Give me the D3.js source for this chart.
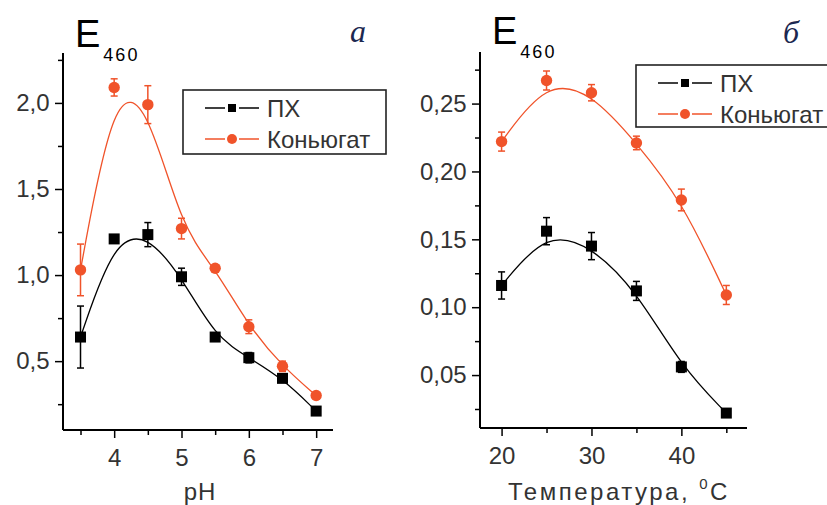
<!DOCTYPE html>
<html>
<head>
<meta charset="utf-8">
<script src="https://cdn.jsdelivr.net/npm/d3@7"></script>
<style>
	body { margin: 0; background: #fff; }
	svg { display: block; font-family: "Liberation Sans", Arial, sans-serif; }
</style>
</head>
<body>
<svg width="827" height="505"></svg>
<script>
// panel a: pH
const phValues = [3.5, 4, 4.5, 5, 5.5, 6, 6.5, 7];
const phPX = [0.64, 1.21, 1.235, 0.99, 0.64, 0.52, 0.40, 0.21];
const phPXErr = [0.18, 0.02, 0.07, 0.05, 0.02, 0.03, 0.02, 0.01];
const phConj = [1.03, 2.09, 1.99, 1.27, 1.04, 0.70, 0.47, 0.30];
const phConjErr = [0.15, 0.05, 0.11, 0.06, 0.01, 0.04, 0.03, 0.01];
const phXMajor = [4, 5, 6, 7];
const phXMinor = [3.5, 4.5, 5.5, 6.5];
const phYMajor = [0.5, 1.0, 1.5, 2.0];
const phYMinor = [0.25, 0.75, 1.25, 1.75, 2.25];

// panel б: temperature
const tempValues = [20, 25, 30, 35, 40, 45];
const tempPX = [0.116, 0.156, 0.145, 0.112, 0.056, 0.022];
const tempPXErr = [0.010, 0.010, 0.010, 0.007, 0.004, 0.001];
const tempConj = [0.222, 0.267, 0.258, 0.221, 0.179, 0.109];
const tempConjErr = [0.007, 0.007, 0.006, 0.005, 0.008, 0.007];
const tempXMajor = [20, 30, 40];
const tempXMinor = [25, 35, 45];
const tempYMajor = [0.05, 0.10, 0.15, 0.20, 0.25];
const tempYMinor = [0.025, 0.075, 0.125, 0.175, 0.225, 0.275];

const seriesNames = ["ПХ", "Коньюгат"];
const BLACK = "#000";
const ORANGE = "#f0532a";
const SANS = "'Liberation Sans', Arial, sans-serif";

const svg = d3.select("svg");

function comma(digits) {
	return d => d.toFixed(digits).replace(".", ",");
}

function drawPanel(cfg) {
	const x = d3.scaleLinear().domain(cfg.xDomain).range(cfg.xRange);
	const y = d3.scaleLinear().domain(cfg.yDomain).range(cfg.yRange);
	const g = svg.append("g");

	// axes: minor ticks, then major ticks with labels
	const xAxis = g.append("g").attr("transform", `translate(0,${cfg.yRange[0]})`);
	xAxis.append("g").call(d3.axisBottom(x).tickValues(cfg.xMinor).tickSize(5).tickFormat(""));
	xAxis.append("g").call(d3.axisBottom(x).tickValues(cfg.xMajor).tickSize(8).tickFormat(d3.format("d")));
	const yAxis = g.append("g").attr("transform", `translate(${cfg.xRange[0]},0)`);
	yAxis.append("g").call(d3.axisLeft(y).tickValues(cfg.yMinor).tickSize(5).tickFormat(""));
	yAxis.append("g").call(d3.axisLeft(y).tickValues(cfg.yMajor).tickSize(8).tickFormat(comma(cfg.yDigits)));

	g.selectAll(".domain").remove();
	g.append("line")
		.attr("x1", cfg.xRange[0]).attr("x2", cfg.xRange[1])
		.attr("y1", cfg.yRange[0]).attr("y2", cfg.yRange[0])
		.attr("stroke", "#000").attr("stroke-width", 2);
	g.append("line")
		.attr("x1", cfg.xRange[0]).attr("x2", cfg.xRange[0])
		.attr("y1", cfg.yRange[0]).attr("y2", cfg.yRange[1])
		.attr("stroke", "#000").attr("stroke-width", 2);
	g.selectAll(".tick line").attr("stroke", "#000").attr("stroke-width", 1.5);
	g.selectAll(".tick text")
		.attr("fill", "#333")
		.style("font-size", "24px")
		.style("font-family", SANS);
	xAxis.selectAll(".tick text").attr("dy", "1.05em");
	yAxis.selectAll(".tick text").attr("dx", "-0.1em");

	// series
	const series = [
		{vals: cfg.px, errs: cfg.pxErr, color: BLACK, shape: "square"},
		{vals: cfg.conj, errs: cfg.conjErr, color: ORANGE, shape: "circle"}
	];
	const line = d3.line().curve(d3.curveBasis)
		.x(d => x(d.x)).y(d => y(d.y));

	series.forEach(s => {
		const pts = cfg.xs.map((v, i) => ({x: v, y: s.vals[i], e: s.errs[i]}));
		const sg = g.append("g");
		sg.append("path")
			.attr("d", line(pts))
			.attr("fill", "none")
			.attr("stroke", s.color)
			.attr("stroke-width", 1.3);

		const eb = sg.selectAll(".err").data(pts).enter().append("g")
			.attr("stroke", s.color).attr("stroke-width", 1.5);
		eb.append("line")
			.attr("x1", d => x(d.x)).attr("x2", d => x(d.x))
			.attr("y1", d => y(d.y - d.e)).attr("y2", d => y(d.y + d.e));
		eb.append("line")
			.attr("x1", d => x(d.x) - 3.5).attr("x2", d => x(d.x) + 3.5)
			.attr("y1", d => y(d.y + d.e)).attr("y2", d => y(d.y + d.e));
		eb.append("line")
			.attr("x1", d => x(d.x) - 3.5).attr("x2", d => x(d.x) + 3.5)
			.attr("y1", d => y(d.y - d.e)).attr("y2", d => y(d.y - d.e));

		if (s.shape == "square") {
			sg.selectAll(".mk").data(pts).enter().append("rect")
				.attr("x", d => x(d.x) - 5.5).attr("y", d => y(d.y) - 5.5)
				.attr("width", 11).attr("height", 11)
				.attr("fill", s.color);
		} else {
			sg.selectAll(".mk").data(pts).enter().append("circle")
				.attr("cx", d => x(d.x)).attr("cy", d => y(d.y))
				.attr("r", 5.7)
				.attr("fill", s.color);
		}
	});

	// title E460
	const t = g.append("text")
		.attr("x", cfg.titleX).attr("y", cfg.titleY)
		.attr("fill", "#000");
	t.append("tspan").style("font-size", "38px").text("E");
	t.append("tspan").style("font-size", "18px").attr("dx", 3).attr("dy", 14)
		.style("letter-spacing", "2px").text("460");

	// panel letter
	g.append("text")
		.attr("x", cfg.letterX).attr("y", cfg.letterY)
		.attr("fill", "#1c2850")
		.style("font-family", "'Liberation Serif', 'Times New Roman', serif")
		.style("font-style", "italic")
		.style("font-size", "32px")
		.text(cfg.letter);

	// x label
	const xl = g.append("text")
		.attr("x", cfg.xLabelX).attr("y", 500)
		.attr("text-anchor", "middle")
		.attr("fill", "#333")
		.style("font-size", "24px")
		.style("letter-spacing", cfg.xLabelSpacing + "px");
	xl.append("tspan").text(cfg.xLabel);
	if (cfg.xLabelSup) {
		xl.append("tspan").style("font-size", "15px").attr("dy", -11).text(cfg.xLabelSup);
		xl.append("tspan").attr("dy", 11).text(cfg.xLabelTail);
	}

	// legend
	const lg = g.append("g").attr("transform", `translate(${cfg.legend.x},${cfg.legend.y})`);
	lg.append("rect")
		.attr("width", cfg.legend.w).attr("height", cfg.legend.h)
		.attr("fill", "#fff").attr("stroke", "#222").attr("stroke-width", 1.6);
	series.forEach((s, i) => {
		const cy = 18 + i * 31;
		const row = lg.append("g").attr("transform", `translate(22,${cy})`);
		row.append("line").attr("x1", 0).attr("x2", 20).attr("y1", 0).attr("y2", 0)
			.attr("stroke", s.color).attr("stroke-width", 1.5);
		row.append("line").attr("x1", 34).attr("x2", 54).attr("y1", 0).attr("y2", 0)
			.attr("stroke", s.color).attr("stroke-width", 1.5);
		if (s.shape == "square") {
			row.append("rect").attr("x", 23).attr("y", -4).attr("width", 8).attr("height", 8)
				.attr("fill", s.color);
		} else {
			row.append("circle").attr("cx", 27).attr("cy", 0).attr("r", 5)
				.attr("fill", s.color);
		}
		row.append("text").attr("x", 62).attr("y", 9)
			.attr("fill", "#333")
			.style("font-size", "24px")
			.text(seriesNames[i]);
	});
}

drawPanel({
	xs: phValues, px: phPX, pxErr: phPXErr, conj: phConj, conjErr: phConjErr,
	xDomain: [3.24, 7.25], xRange: [63, 333],
	yDomain: [0.1, 2.29], yRange: [430, 53],
	xMajor: phXMajor, xMinor: phXMinor, yMajor: phYMajor, yMinor: phYMinor,
	yDigits: 1,
	titleX: 75, titleY: 47,
	letter: "а", letterX: 350, letterY: 42,
	xLabel: "pH", xLabelX: 200, xLabelSpacing: 1,
	legend: {x: 183, y: 90, w: 203, h: 64}
});

drawPanel({
	xs: tempValues, px: tempPX, pxErr: tempPXErr, conj: tempConj, conjErr: tempConjErr,
	xDomain: [17.6, 47.3], xRange: [480, 747],
	yDomain: [0.011, 0.288], yRange: [428, 52],
	xMajor: tempXMajor, xMinor: tempXMinor, yMajor: tempYMajor, yMinor: tempYMinor,
	yDigits: 2,
	titleX: 492, titleY: 44,
	letter: "б", letterX: 783, letterY: 43,
	xLabel: "Температура, ", xLabelSup: "0", xLabelTail: "C", xLabelX: 619, xLabelSpacing: 2.5,
	legend: {x: 636, y: 65, w: 200, h: 62}
});
</script>
</body>
</html>
